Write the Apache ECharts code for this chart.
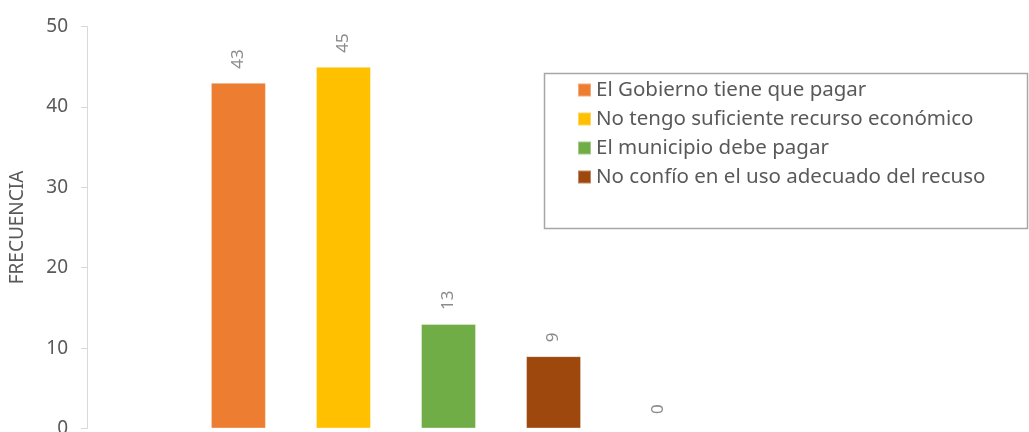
<!DOCTYPE html>
<html>
<head>
<meta charset="utf-8">
<script src="https://cdn.jsdelivr.net/npm/echarts@6/dist/echarts.min.js"></script>
<style>html,body{margin:0;padding:0;background:#fff}#c{width:1029px;height:432px}</style>
</head>
<body>
<div id="c"></div>
<script>
const categories = ['Razones'];
const seriesNames = ['El Gobierno tiene que pagar', 'No tengo suficiente recurso económico', 'El municipio debe pagar', 'No confío en el uso adecuado del recuso', 'Otro'];
const values = [43, 45, 13, 9, 0];
const colors = ['#ED7D31', '#FFC000', '#70AD47', '#9E480E', '#A5A5A5'];
const yTicks = [0, 10, 20, 30, 40, 50];

const chart = echarts.init(document.getElementById('c'), null, {renderer: 'canvas'});
const font = 'Noto Sans';
chart.setOption({
  animation: false,
  grid: {left: 87, right: 219, top: 26.5, bottom: 3.5, containLabel: false, outerBoundsMode: 'none'},
  xAxis: {
    type: 'category', data: categories,
    axisLine: {show: false}, axisTick: {show: false}, axisLabel: {show: false}
  },
  yAxis: {
    type: 'value', min: yTicks[0], max: yTicks[yTicks.length - 1], interval: 10,
    name: 'FRECUENCIA', nameLocation: 'middle', nameGap: 60,
    nameTextStyle: {fontFamily: font, fontSize: 19, color: '#595959'},
    axisLine: {show: true, lineStyle: {color: '#D9D9D9', width: 1}},
    axisTick: {show: true, length: 6, lineStyle: {color: '#D9D9D9'}},
    axisLabel: {fontFamily: font, fontSize: 19, color: '#595959', margin: 19},
    splitLine: {show: false}
  },
  legend: {
    data: seriesNames.slice(0, 4),
    orient: 'vertical', left: 572, top: 74,
    itemWidth: 13, itemHeight: 13, itemGap: 7, icon: 'rect',
    textStyle: {fontFamily: font, fontSize: 20.5, color: '#595959', lineHeight: 22}
  },
  graphic: [{
    type: 'rect', shape: {x: 544.5, y: 73.5, width: 483, height: 155},
    style: {fill: 'none', stroke: '#A6A6A6', lineWidth: 1.5}, silent: true
  }],
  series: seriesNames.map((n, i) => ({
    name: n, type: 'bar', barWidth: 55, barGap: '91%',
    itemStyle: {color: colors[i], borderColor: 'rgba(255,255,255,0.35)', borderWidth: 1},
    label: {
      show: true, position: 'top', rotate: 90, align: 'left', verticalAlign: 'middle',
      distance: 14, fontFamily: font, fontSize: 17, color: '#8C8C8C'
    },
    data: [values[i]]
  }))
});
</script>
</body>
</html>
